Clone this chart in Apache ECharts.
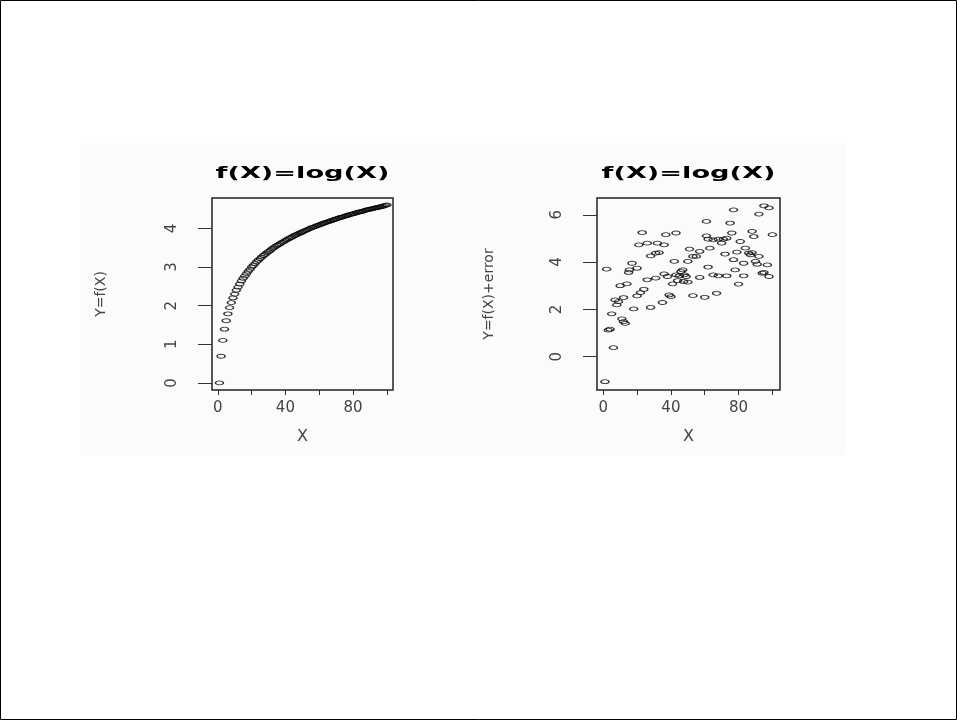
<!DOCTYPE html>
<html>
<head>
<meta charset="utf-8">
<script src="https://cdn.jsdelivr.net/npm/echarts@6/dist/echarts.min.js"></script>
<style>
html,body{margin:0;padding:0;background:#fff;}
#chart{width:957px;height:720px;}
</style>
</head>
<body>
<div id="chart"></div>
<script>
// ---- data ----
const panelTitles = ['f(X)=log(X)', 'f(X)=log(X)'];
const leftYName = 'Y=f(X)';
const rightYName = 'Y=f(X)+error';
const xName = 'X';

const xTicks = [0, 20, 40, 60, 80, 100];
const xTickLabels = [0, 40, 80];
const leftYTicks = [0, 1, 2, 3, 4];
const rightYTicks = [0, 2, 4, 6];

const logX = [1,2,3,4,5,6,7,8,9,10,11,12,13,14,15,16,17,18,19,20,
  21,22,23,24,25,26,27,28,29,30,31,32,33,34,35,36,37,38,39,40,
  41,42,43,44,45,46,47,48,49,50,51,52,53,54,55,56,57,58,59,60,
  61,62,63,64,65,66,67,68,69,70,71,72,73,74,75,76,77,78,79,80,
  81,82,83,84,85,86,87,88,89,90,91,92,93,94,95,96,97,98,99,100];
const logY = [0,0.69,1.10,1.39,1.61,1.79,1.95,2.08,2.20,2.30,
  2.40,2.48,2.56,2.64,2.71,2.77,2.83,2.89,2.94,3.00,
  3.04,3.09,3.14,3.18,3.22,3.26,3.30,3.33,3.37,3.40,
  3.43,3.47,3.50,3.53,3.56,3.58,3.61,3.64,3.66,3.69,
  3.71,3.74,3.76,3.78,3.81,3.83,3.85,3.87,3.89,3.91,
  3.93,3.95,3.97,3.99,4.01,4.03,4.04,4.06,4.08,4.09,
  4.11,4.13,4.14,4.16,4.17,4.19,4.20,4.22,4.23,4.25,
  4.26,4.28,4.29,4.30,4.32,4.33,4.34,4.36,4.37,4.38,
  4.39,4.41,4.42,4.43,4.44,4.45,4.47,4.48,4.49,4.50,
  4.51,4.52,4.53,4.54,4.55,4.56,4.57,4.58,4.60,4.61];

const errX = [1,2,3,4,5,6,7,8,9,10,
  11,12,13,12,14,15,15.5,17,18,20,
  20,21,22,23,24,26,26,28,28,32,
  31,33,31,35,36,38,37,43,39,40,
  41,42,43,44,45,46,47,47.5,48,49,
  50,50,51,53,55,57,53,60,57,61,
  61,62,62,63,65,65,67,68,68,70,
  71,72,73,73,75,76,77,77,78,79,
  80,81,83,83,84,86,87,88,88,89,
  90,91,92,92,94,95,95,97,98,98,100,36];
const errY = [-1.06,3.70,1.12,1.16,1.81,0.38,2.40,2.19,2.33,3.00,
  1.60,1.48,1.41,2.50,3.08,3.56,3.67,3.95,2.02,3.74,
  2.57,4.73,2.71,5.25,2.85,4.80,3.25,4.26,2.08,4.80,
  4.38,4.40,3.32,2.29,3.50,3.39,5.16,5.23,2.61,2.54,
  3.08,4.03,3.46,3.22,3.42,3.60,3.67,3.18,3.46,3.39,
  3.15,4.03,4.55,4.24,4.24,4.45,2.58,2.51,3.35,5.72,
  5.11,3.79,4.97,4.59,4.94,3.46,2.68,4.97,3.42,4.80,
  4.97,4.34,5.01,3.42,5.65,5.23,6.21,4.10,3.67,4.42,
  3.07,4.87,3.95,3.42,4.59,4.38,4.31,4.40,5.30,5.08,
  4.03,3.91,4.24,6.03,3.53,3.56,6.38,3.88,6.29,3.39,5.16,4.73];

// ---- build ----
const leftData = logX.map((x, i) => [x, logY[i]]);
const rightData = errX.map((x, i) => [x, errY[i]]);

const chart = echarts.init(document.getElementById('chart'));

const FONT = '"DejaVu Sans", sans-serif';
const tickColor = '#333';
const labelStyle = {color: '#444', fontFamily: FONT, fontSize: 15};

function xAxisCfg(gridIndex, min, max) {
  return {
    type: 'value', gridIndex, min, max, position: 'bottom',
    name: xName, nameLocation: 'middle', nameGap: 39,
    nameTextStyle: {color: '#444', fontFamily: FONT, fontSize: 16},
    axisLine: {show: false, onZero: false},
    axisTick: {show: true, customValues: xTicks, length: 5, inside: false,
      lineStyle: {color: tickColor, width: 1}},
    axisLabel: Object.assign({customValues: xTickLabels, margin: 11}, labelStyle),
    splitLine: {show: false}
  };
}
function yAxisCfg(gridIndex, min, max, ticks, name, gap) {
  return {
    type: 'value', gridIndex, min, max, position: 'left',
    name, nameLocation: 'middle', nameGap: gap, nameRotate: 90,
    nameTextStyle: {color: '#444', fontFamily: FONT, fontSize: 14},
    axisLine: {show: false, onZero: false},
    axisTick: {show: true, customValues: ticks, length: 14, inside: false,
      lineStyle: {color: tickColor, width: 1}},
    axisLabel: Object.assign({customValues: ticks, margin: 32, rotate: 90}, labelStyle),
    splitLine: {show: false}
  };
}

const symbolStyle = {color: 'rgba(0,0,0,0)', borderColor: '#000', borderWidth: 1.1};

chart.setOption({
  backgroundColor: '#ffffff',
  animation: false,
  grid: [
    {left: 212, top: 198, width: 181, height: 192, show: true,
     borderColor: '#222', borderWidth: 1.5, backgroundColor: 'rgba(0,0,0,0)', outerBoundsMode: 'none'},
    {left: 597, top: 198, width: 183, height: 192, show: true,
     borderColor: '#222', borderWidth: 1.5, backgroundColor: 'rgba(0,0,0,0)', outerBoundsMode: 'none'}
  ],
  xAxis: [xAxisCfg(0, -3.4, 103.6), xAxisCfg(1, -3.7, 104.5)],
  yAxis: [yAxisCfg(0, -0.184, 4.789, leftYTicks, leftYName, 104),
          yAxisCfg(1, -1.41, 6.71, rightYTicks, rightYName, 101)],
  series: [
    {type: 'scatter', xAxisIndex: 0, yAxisIndex: 0, data: leftData,
     symbol: 'circle', symbolSize: [8, 4], itemStyle: symbolStyle, z: 3},
    {type: 'scatter', xAxisIndex: 1, yAxisIndex: 1, data: rightData,
     symbol: 'circle', symbolSize: [8, 4], itemStyle: symbolStyle, z: 3}
  ],
  graphic: [
    {type: 'rect', z: -10, silent: true,
     shape: {x: 80, y: 143, width: 765, height: 312},
     style: {fill: '#fbfbfb'}},
    {type: 'rect', z: 100, silent: true,
     shape: {x: 0.5, y: 0.5, width: 956, height: 719},
     style: {fill: 'none', stroke: '#000', lineWidth: 1}},
    {type: 'text', x: 302.5, y: 174, scaleX: 1.7, silent: true,
     style: {text: panelTitles[0], font: 'bold 16px ' + FONT, fill: '#000',
       textAlign: 'center', textVerticalAlign: 'middle'}},
    {type: 'text', x: 688.5, y: 174, scaleX: 1.7, silent: true,
     style: {text: panelTitles[1], font: 'bold 16px ' + FONT, fill: '#000',
       textAlign: 'center', textVerticalAlign: 'middle'}}
  ]
});
</script>
</body>
</html>
